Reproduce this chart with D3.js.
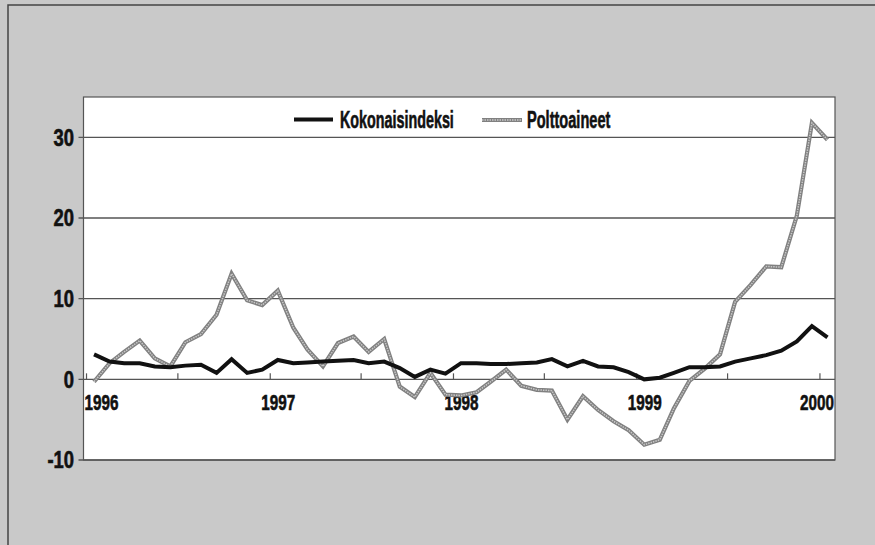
<!DOCTYPE html>
<html>
<head>
<meta charset="utf-8">
<script src="https://cdn.jsdelivr.net/npm/d3@7"></script>
<style>
  html, body { margin: 0; padding: 0; background: #c9c9c9; }
  svg { display: block; }
  .lbl { font-family: "Liberation Sans", Arial, sans-serif; font-weight: bold; fill: #111; stroke: #111; stroke-width: 0.6px; }
</style>
</head>
<body>
<div id="chart"></div>
<script>
// inflation chart: kokonaisindeksi vs polttoaineet, monthly 1996-2000

const seriesNames = ["Kokonaisindeksi", "Polttoaineet"];
// months Jan 1996 .. Jan 2000
const months = d3.timeMonth.range(new Date(1996, 0, 1), new Date(2000, 1, 1));

const kokonais = [
  3.1, 2.2, 2.0, 2.0, 1.6, 1.5, 1.7, 1.8, 0.8, 2.5, 0.8, 1.2,
  2.4, 2.0, 2.1, 2.2, 2.3, 2.4, 2.0, 2.2, 1.4, 0.3, 1.2, 0.7,
  2.0, 2.0, 1.9, 1.9, 2.0, 2.1, 2.5, 1.6, 2.3, 1.6, 1.5, 0.9,
  0.0, 0.2, 0.8, 1.5, 1.5, 1.6, 2.2, 2.6, 3.0, 3.55, 4.7, 6.6,
  5.2
];
const polttoaineet = [
  -0.3, 2.0, 3.4, 4.8, 2.6, 1.6, 4.6, 5.6, 8.0, 13.1, 9.8, 9.2,
  11.0, 6.4, 3.7, 1.6, 4.5, 5.3, 3.4, 5.0, -0.9, -2.2, 0.8, -1.9,
  -2.0, -1.6, -0.3, 1.2, -0.8, -1.3, -1.4, -5.0, -2.1, -3.8, -5.2, -6.3,
  -8.1, -7.5, -3.6, -0.2, 1.3, 3.1, 9.6, 11.7, 14.0, 13.9, 20.3, 31.8,
  29.7
];
const yTicks = [-10, 0, 10, 20, 30];
const yearLabels = [1996, 1997, 1998, 1999, 2000];

const W = 875, H = 545;
const plot = { left: 83.5, right: 835, top: 97, bottom: 460 };

const svg = d3.select("#chart").append("svg")
  .attr("width", W).attr("height", H);

// background + outer frame
svg.append("rect").attr("width", W).attr("height", H).attr("fill", "#c9c9c9");
svg.append("path")
  .attr("d", `M8,${H} V5 H${W}`)
  .attr("fill", "none").attr("stroke", "#444").attr("stroke-width", 1.5);

const x = d3.scaleTime()
  .domain([new Date(1995, 11, 26), new Date(2000, 0, 31)])
  .range([plot.left, plot.right]);
const y = d3.scaleLinear()
  .domain([-10, 35])
  .range([plot.bottom, plot.top]);

// condensed bold text: squeeze horizontally
function label(g, tx, ty, str, size, sx, anchor) {
  return g.append("text")
    .attr("class", "lbl")
    .attr("transform", `translate(${tx},${ty}) scale(${sx},1)`)
    .attr("text-anchor", anchor || "start")
    .attr("font-size", size)
    .text(str);
}

// plot area
svg.append("rect")
  .attr("x", plot.left).attr("y", plot.top)
  .attr("width", plot.right - plot.left).attr("height", plot.bottom - plot.top)
  .attr("fill", "#fff").attr("stroke", "#555").attr("stroke-width", 1.2);

// horizontal grid lines, with short tick stubs on the left
svg.append("g").selectAll("line")
  .data(yTicks)
  .join("line")
  .attr("x1", plot.left - 5).attr("x2", plot.right)
  .attr("y1", d => y(d)).attr("y2", d => y(d))
  .attr("stroke", "#555").attr("stroke-width", 1.3);

const yl = svg.append("g");
yTicks.forEach(d => label(yl, 74, y(d) + 8.3, d, 23, 0.8, "end"));

// half-year ticks on the zero line
svg.append("g").selectAll("line")
  .data(d3.timeMonth.every(6).range(new Date(1996, 0, 1), new Date(2000, 1, 1)))
  .join("line")
  .attr("x1", d => x(d)).attr("x2", d => x(d))
  .attr("y1", y(0)).attr("y2", y(0) - 6)
  .attr("stroke", "#555").attr("stroke-width", 1.2);

// year labels, kept inside the plot box
const xl = svg.append("g");
yearLabels.forEach(d => {
  const cx = Math.max(plot.left + 18, Math.min(plot.right - 18, x(new Date(d, 0, 1)) + 8));
  label(xl, cx, 410, d, 21.5, 0.71, "middle");
});

const pt = (arr) => arr.map((v, i) => [new Date(months[i].getFullYear(), months[i].getMonth(), 16), v]);
const line = d3.line().x(d => x(d[0])).y(d => y(d[1]));

// polttoaineet: grey halftone-ish line (outline + lighter core)
const polt = pt(polttoaineet);
svg.append("path").datum(polt)
  .attr("d", line).attr("fill", "none")
  .attr("stroke", "#808080").attr("stroke-width", 4.2)
  .attr("stroke-linejoin", "miter");
svg.append("path").datum(polt)
  .attr("d", line).attr("fill", "none")
  .attr("stroke", "#c8c8c8").attr("stroke-width", 1.5)
  .attr("stroke-dasharray", "1.5,1");

// kokonaisindeksi: black
svg.append("path").datum(pt(kokonais))
  .attr("d", line).attr("fill", "none")
  .attr("stroke", "#111").attr("stroke-width", 4)
  .attr("stroke-linejoin", "miter");

// legend
const leg = svg.append("g");
leg.append("line").attr("x1", 294).attr("x2", 333).attr("y1", 119.5).attr("y2", 119.5)
  .attr("stroke", "#111").attr("stroke-width", 4);
label(leg, 340, 128, seriesNames[0], 23.5, 0.61);
leg.append("line").attr("x1", 482).attr("x2", 522).attr("y1", 120).attr("y2", 120)
  .attr("stroke", "#808080").attr("stroke-width", 4.2);
leg.append("line").attr("x1", 482).attr("x2", 522).attr("y1", 120).attr("y2", 120)
  .attr("stroke", "#c8c8c8").attr("stroke-width", 1.5).attr("stroke-dasharray", "1.5,1");
label(leg, 527, 128, seriesNames[1], 23.5, 0.62);
</script>
</body>
</html>
